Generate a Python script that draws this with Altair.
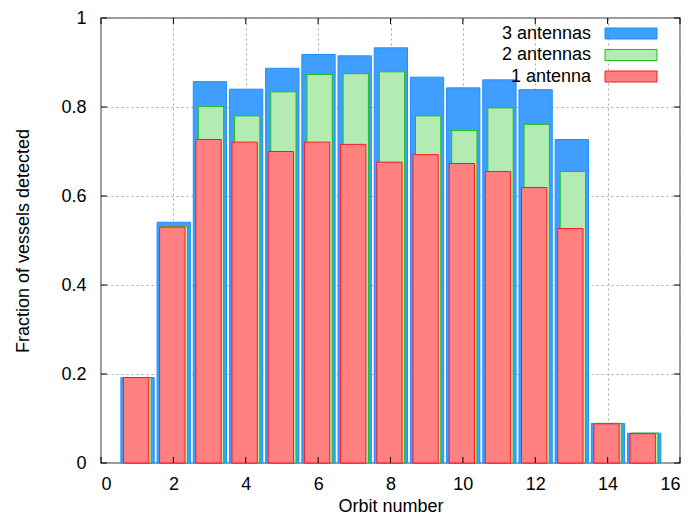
import altair as alt
import pandas as pd

orbits = list(range(1, 16))
three_ant = [0.192, 0.541, 0.857, 0.840, 0.887, 0.918, 0.915, 0.933, 0.867, 0.843, 0.861, 0.839, 0.727, 0.089, 0.067]
two_ant = [0.192, 0.532, 0.801, 0.780, 0.834, 0.873, 0.875, 0.879, 0.780, 0.747, 0.798, 0.761, 0.655, 0.089, 0.067]
one_ant = [0.192, 0.530, 0.727, 0.721, 0.700, 0.721, 0.716, 0.676, 0.693, 0.673, 0.655, 0.619, 0.527, 0.088, 0.066]

series_labels = ["3 antennas", "2 antennas", "1 antenna"]
fills = ["#3f9eff", "#b3ebb3", "#ff8080"]
strokes = ["#1e8fff", "#1fbf1f", "#ff1a1a"]
centers = [0.01, 0.04, -0.03]
halfw = [0.46, 0.35, 0.35]

x_ticks = [0, 2, 4, 6, 8, 10, 12, 14, 16]
y_ticks = [0, 0.2, 0.4, 0.6, 0.8, 1.0]

W, H = 579, 445
FONT = "Liberation Sans"
FS = 18

xscale = alt.Scale(domain=[0, 16], nice=False)
yscale = alt.Scale(domain=[0, 1], nice=False)

xaxis = alt.Axis(values=x_ticks, title="Orbit number", ticks=False, domain=False,
                 labelFontSize=FS, titleFontSize=FS, labelPadding=12, titlePadding=4,
                 grid=True, gridDash=[2, 3], gridColor="#a8a8a8", labelColor="black",
                 titleColor="black", titleFontWeight="normal", labelFont=FONT, titleFont=FONT)
yaxis = alt.Axis(values=y_ticks, title="Fraction of vessels detected", ticks=False, domain=False,
                 labelFontSize=FS, titleFontSize=FS, labelPadding=15, titlePadding=28,
                 grid=True, gridDash=[2, 3], gridColor="#a8a8a8", labelColor="black",
                 titleColor="black", titleFontWeight="normal", labelFont=FONT, titleFont=FONT,
                 labelExpr="datum.value == 0 ? '0' : datum.value == 1 ? '1' : format(datum.value, '.1f')")

layers = []
for i, vals in enumerate([three_ant, two_ant, one_ant]):
    df = pd.DataFrame({"orbit": orbits, "value": vals})
    c, h = centers[i], halfw[i]
    ch = (alt.Chart(df)
          .transform_calculate(x0=f"datum.orbit + ({c}) - {h}", x1=f"datum.orbit + ({c}) + {h}")
          .mark_rect(fill=fills[i], stroke=strokes[i], strokeWidth=1)
          .encode(x=alt.X("x0:Q", scale=xscale, axis=xaxis),
                  x2="x1:Q",
                  y=alt.Y("value:Q", scale=yscale, axis=yaxis),
                  y2=alt.datum(0)))
    layers.append(ch)

# inward ticks (gnuplot style, mirrored)
xt = pd.DataFrame({"t": x_ticks})
yt = pd.DataFrame({"t": y_ticks})
layers.append(alt.Chart(xt).mark_rule(color="black", strokeWidth=1).encode(
    x=alt.X("t:Q", scale=xscale, axis=xaxis), y=alt.value(0), y2=alt.value(6)))
layers.append(alt.Chart(xt).mark_rule(color="black", strokeWidth=1).encode(
    x=alt.X("t:Q", scale=xscale, axis=xaxis), y=alt.value(H), y2=alt.value(H - 6)))
layers.append(alt.Chart(yt).mark_rule(color="black", strokeWidth=1).encode(
    y=alt.Y("t:Q", scale=yscale, axis=yaxis), x=alt.value(0), x2=alt.value(6)))
layers.append(alt.Chart(yt).mark_rule(color="black", strokeWidth=1).encode(
    y=alt.Y("t:Q", scale=yscale, axis=yaxis), x=alt.value(W), x2=alt.value(W - 6)))

# legend (gnuplot style: text left, box right)
one = pd.DataFrame({"k": [0]})
for i, lab in enumerate(series_labels):
    yc = 15.5 + i * 21.5
    layers.append(alt.Chart(one).mark_rect(fill=fills[i], stroke=strokes[i], strokeWidth=1).encode(
        x=alt.value(504), x2=alt.value(556), y=alt.value(yc - 5.5), y2=alt.value(yc + 5.5)))
    layers.append(alt.Chart(one).mark_text(align="right", baseline="middle", fontSize=FS,
                                           font=FONT, color="black").encode(
        x=alt.value(490), y=alt.value(yc), text=alt.value(lab)))

chart = (alt.layer(*layers)
         .properties(width=W, height=H, background="white",
                     autosize=alt.AutoSizeParams(type="none"),
                     padding={"left": 93, "top": 10, "right": 3, "bottom": 56})
         .configure_view(stroke="#7a7a7a", strokeWidth=1.5))

chart.save("out.html", embed_options={"renderer": "svg", "actions": False})
